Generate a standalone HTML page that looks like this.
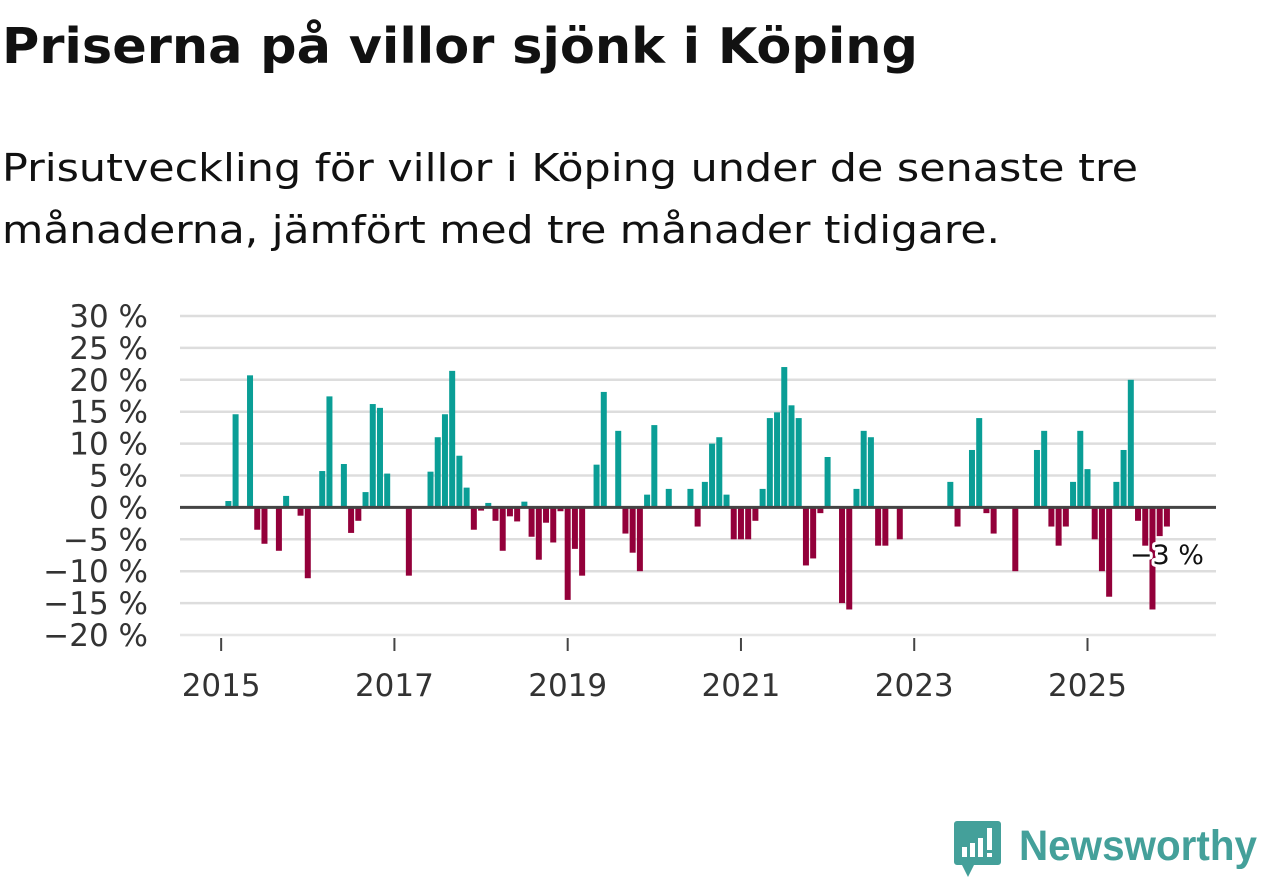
<!DOCTYPE html>
<html><head><meta charset="utf-8">
<style>
html,body{margin:0;padding:0;background:#fff;}
body{width:1262px;height:879px;overflow:hidden;font-family:"DejaVu Sans","Liberation Sans",sans-serif;}
svg{display:block;}
</style></head>
<body>
<svg id="chart" width="1262" height="879" viewBox="0 0 1262 879">
<text x="2" y="63" font-size="49" font-weight="bold" fill="#111" textLength="916" lengthAdjust="spacingAndGlyphs">Priserna på villor sjönk i Köping</text>
<text x="2" y="181" font-size="38" fill="#111" textLength="1136" lengthAdjust="spacingAndGlyphs">Prisutveckling för villor i Köping under de senaste tre</text>
<text x="2" y="243" font-size="38" fill="#111" textLength="998" lengthAdjust="spacingAndGlyphs">månaderna, jämfört med tre månader tidigare.</text>
<g id="grid"></g>
<g id="yaxis"></g>
<g id="xaxis"></g>
<g id="bars"></g>
<g id="zero"></g>
<g id="annot"></g>
<g>
  <path d="M957 821 h41 a3 3 0 0 1 3 3 v38 a3 3 0 0 1 -3 3 h-24 l-6 12 l-6 -12 h-5 a3 3 0 0 1 -3 -3 v-38 a3 3 0 0 1 3 -3z" fill="#44a09a"/>
  <rect x="962" y="847" width="5" height="10" fill="#fff"/>
  <rect x="970" y="843" width="5" height="14" fill="#fff"/>
  <rect x="978" y="838" width="5" height="19" fill="#fff"/>
  <rect x="987" y="828" width="5" height="22" fill="#fff"/>
  <rect x="987" y="853" width="5" height="4" fill="#fff"/>
  <text x="1019" y="860" font-size="43" font-weight="bold" fill="#44a09a" font-family="Liberation Sans, sans-serif" textLength="238" lengthAdjust="spacingAndGlyphs">Newsworthy</text>
</g>
</svg>
<script>
// Monthly price change (%) starting January 2015 (index 0); null = no data
const startYear = 2015;
const values = [
 null, 1, 14.6, null, 20.7, -3.5, -5.7, null, -6.8, 1.8, null, -1.3,
 -11.1, null, 5.7, 17.4, null, 6.8, -4, -2.1, 2.4, 16.2, 15.6, 5.3,
 null, null, -10.7, null, null, 5.6, 11, 14.6, 21.4, 8.1, 3.1, -3.5,
 -0.5, 0.7, -2.1, -6.8, -1.4, -2.2, 0.9, -4.6, -8.2, -2.4, -5.5, -0.6,
 -14.5, -6.5, -10.7, null, 6.7, 18.1, null, 12, -4.1, -7.1, -10, 2,
 12.9, null, 2.9, null, null, 2.9, -3, 4, 10, 11, 2, -5,
 -5, -5, -2.1, 2.9, 14, 14.9, 22, 16, 14, -9.1, -8, -0.9,
 7.9, null, -15, -16, 2.9, 12, 11, -6, -6, null, -5, null,
 null, null, null, null, null, 4, -3, null, 9, 14, -0.9, -4.1,
 null, null, -10, null, null, 9, 12, -3, -6, -3, 4, 12,
 6, -5, -10, -14, 4, 9, 20, -2.1, -6, -16, -4.5, -3
];
const yTicks = [30, 25, 20, 15, 10, 5, 0, -5, -10, -15, -20];
const yTickLabels = ["30 %","25 %","20 %","15 %","10 %","5 %","0 %","−5 %","−10 %","−15 %","−20 %"];
const xTickYears = [2015, 2017, 2019, 2021, 2023, 2025];
const lastLabel = "−3 %";

const NS = "http://www.w3.org/2000/svg";
const plotL = 180, plotR = 1216, plotTop = 316, plotBot = 635;
const yMin = -20, yMax = 30;
const mMin = -5.7, mMax = 137.8; // months since Jan 2015
function xScale(m){ return plotL + (m - mMin) / (mMax - mMin) * (plotR - plotL); }
function yScale(v){ return plotBot - (v - yMin) / (yMax - yMin) * (plotBot - plotTop); }
function mk(tag, attrs, parent){ const e = document.createElementNS(NS, tag); for (const k in attrs) e.setAttribute(k, attrs[k]); parent.appendChild(e); return e; }

const grid = document.getElementById('grid');
const yaxis = document.getElementById('yaxis');
yTicks.forEach((t, i) => {
  const y = yScale(t);
  const l = mk('line', {x1: plotL, x2: plotR, y1: y, y2: y, stroke: t === yMin ? '#e6e6e6' : '#dddddd', 'stroke-width': 2.5}, grid);
  
  
  const tx = mk('text', {x: 148, y: y + 11, 'text-anchor': 'end', 'font-size': 31, fill: '#333'}, yaxis);
  tx.textContent = yTickLabels[i];
  
  
});

const xaxis = document.getElementById('xaxis');
xTickYears.forEach(yr => {
  const x = xScale((yr - startYear) * 12);
  const tk = mk('line', {x1: x, x2: x, y1: 638, y2: 651, stroke: '#444', 'stroke-width': 2}, xaxis);
  
  
  const tx = mk('text', {x: x, y: 696, 'text-anchor': 'middle', 'font-size': 31, fill: '#333'}, xaxis);
  tx.textContent = String(yr);
  
  
});

const bars = document.getElementById('bars');
const bw = 6;
let lastIdx = -1;
values.forEach((v, i) => {
  if (v === null) return;
  lastIdx = i;
  const x = xScale(i) - bw / 2;
  const y0 = yScale(0), y1 = yScale(v);
  const r = mk('rect', {x: x, y: Math.min(y0, y1), width: bw, height: Math.abs(y1 - y0), fill: v >= 0 ? '#0a9e96' : '#93003a'}, bars);
  
  
});

const zero = document.getElementById('zero');
const zl = mk('line', {x1: plotL, x2: plotR, y1: yScale(0), y2: yScale(0), stroke: '#444', 'stroke-width': 3}, zero);



const annot = document.getElementById('annot');
const ax = xScale(lastIdx) + 37, ay = 564;
const at = mk('text', {x: ax, y: ay, 'text-anchor': 'end', 'font-size': 27, fill: '#111', stroke: '#fff', 'stroke-width': 6, 'paint-order': 'stroke', 'stroke-linejoin': 'round'}, annot);
at.textContent = lastLabel;


</script>
</body></html>
